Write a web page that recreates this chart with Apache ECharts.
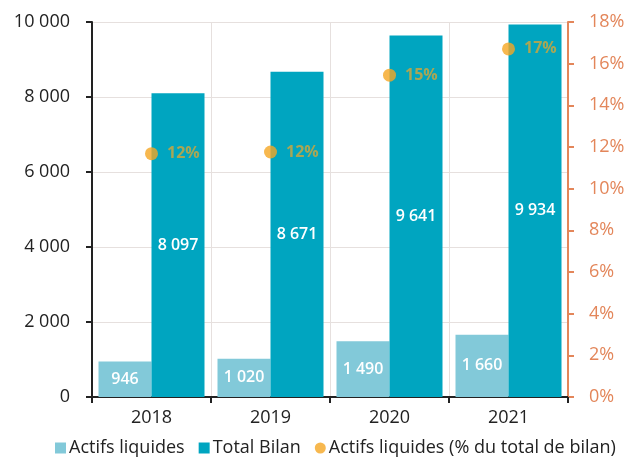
<!DOCTYPE html>
<html>
<head>
<meta charset="utf-8">
<script src="https://cdn.jsdelivr.net/npm/echarts@6/dist/echarts.min.js"></script>
<style>
  html, body { margin: 0; padding: 0; background: #fff; }
  #chart { width: 628px; height: 460px; }
</style>
</head>
<body>
<div id="chart"></div>
<script>
// Years on the category axis
const categories = ['2018', '2019', '2020', '2021'];
// Liquid assets (left axis)
const actifsLiquides = [946, 1020, 1490, 1660];
// Balance sheet total (left axis)
const totalBilan = [8097, 8671, 9641, 9934];
// Liquid assets as a share of the balance sheet, in % (right axis)
const partActifs = [11.68, 11.76, 15.45, 16.71];

const FONT = '"Open Sans", "Noto Sans", sans-serif';
const fmtThousands = v => String(v).replace(/\B(?=(\d{3})+(?!\d))/g, ' ');

const chart = echarts.init(document.getElementById('chart'), null, { renderer: 'canvas' });
chart.setOption({
  animation: false,
  backgroundColor: '#ffffff',
  textStyle: { fontFamily: FONT },
  grid: { left: 92, right: 60, top: 22, bottom: 63 },
  legend: {
    bottom: -2,
    left: 50,
    itemGap: 14,
    itemWidth: 11,
    itemHeight: 11,
    textStyle: { fontFamily: FONT, fontSize: 18, color: '#222', padding: [0, 0, 0, -2] },
    data: [
      { name: 'Actifs liquides', icon: 'rect' },
      { name: 'Total Bilan', icon: 'rect' },
      { name: 'Actifs liquides (% du total de bilan)', icon: 'circle' }
    ]
  },
  xAxis: {
    type: 'category',
    data: categories,
    axisLine: { lineStyle: { color: '#222', width: 2 } },
    axisTick: { show: true, length: 6, lineStyle: { color: '#222', width: 2 } },
    axisLabel: { fontFamily: FONT, fontSize: 18, color: '#222', margin: 12 },
    splitLine: { show: true, interval: 0, lineStyle: { color: '#e6e0de', width: 1 } }
  },
  yAxis: [
    {
      type: 'value',
      min: 0, max: 10000, interval: 2000,
      axisLine: { show: true, lineStyle: { color: '#222', width: 2 } },
      axisTick: { show: true, length: 6, lineStyle: { color: '#222', width: 2 } },
      axisLabel: { fontFamily: FONT, fontSize: 18, color: '#222', margin: 22, formatter: fmtThousands },
      splitLine: { show: true, lineStyle: { color: '#e6e0de', width: 1 } }
    },
    {
      type: 'value',
      min: 0, max: 18, interval: 2,
      position: 'right',
      axisLine: { show: true, lineStyle: { color: '#e3865a', width: 2 } },
      axisTick: { show: true, length: 6, lineStyle: { color: '#e3865a', width: 2 } },
      axisLabel: { fontFamily: FONT, fontSize: 18, color: '#e3865a', margin: 21, formatter: '{value}%' },
      splitLine: { show: false }
    }
  ],
  series: [
    {
      name: 'Actifs liquides',
      type: 'bar',
      data: actifsLiquides,
      barWidth: 53,
      barGap: '0%',
      itemStyle: { color: '#82c9d9' },
      label: {
        show: true, position: 'inside', color: '#fff',
        fontFamily: FONT, fontSize: 16, fontWeight: 600,
        formatter: p => fmtThousands(p.value)
      }
    },
    {
      name: 'Total Bilan',
      type: 'bar',
      data: totalBilan,
      barWidth: 53,
      barGap: '0%',
      itemStyle: { color: '#00a5c0' },
      label: {
        show: true, position: 'inside', color: '#fff',
        fontFamily: FONT, fontSize: 16, fontWeight: 600,
        formatter: p => fmtThousands(p.value)
      }
    },
    {
      name: 'Actifs liquides (% du total de bilan)',
      type: 'scatter',
      yAxisIndex: 1,
      data: partActifs,
      symbol: 'circle',
      symbolSize: 13,
      itemStyle: { color: '#f5a623' },
      z: 5,
      label: {
        show: true, position: 'right', distance: 9,
        color: '#d2a63a', fontFamily: FONT, fontSize: 16, fontWeight: 700,
        formatter: p => p.value.toFixed(0) + '%'
      }
    }
  ]
});
</script>
</body>
</html>
